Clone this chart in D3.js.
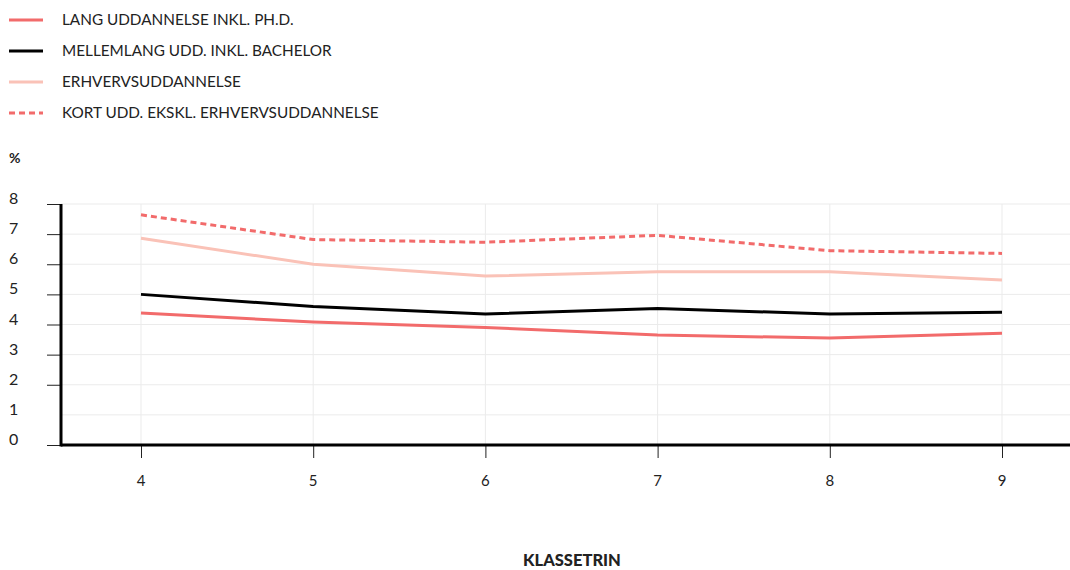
<!DOCTYPE html>
<html><head><meta charset="utf-8">
<script src="https://cdn.jsdelivr.net/npm/d3@7"></script>
<style>
body{margin:0;background:#fff;}
text{font-family:Lato, "Open Sans", sans-serif;fill:#222;}
</style></head>
<body><svg id="c" width="1070" height="570"></svg>
<script>
const categories = [4,5,6,7,8,9];
const seriesNames = ["LANG UDDANNELSE INKL. PH.D.","MELLEMLANG UDD. INKL. BACHELOR","ERHVERVSUDDANNELSE","KORT UDD. EKSKL. ERHVERVSUDDANNELSE"];
const lang = [4.38, 4.08, 3.90, 3.65, 3.55, 3.71];
const mellem = [5.00, 4.60, 4.35, 4.53, 4.35, 4.41];
const erhverv = [6.86, 6.00, 5.61, 5.75, 5.75, 5.48];
const kort = [7.64, 6.82, 6.73, 6.96, 6.45, 6.36];
const yTicks = [0,1,2,3,4,5,6,7,8];
const yLabel = "%";
const xTitle = "KLASSETRIN";

const colors = ["#f26b6b","#000000","#fac2b7","#f26b6b"];
const dashes = [null,null,null,"6,4"];
const data = [lang, mellem, erhverv, kort];

const svg = d3.select("#c");
const pL = 61, pR = 1070, pT = 204, pB = 445;
const x = d3.scalePoint().domain(categories).range([141, 1002]);
const y = d3.scaleLinear().domain([0,8]).range([pB, pT]);

// gridlines
svg.append("g").selectAll("line").data(yTicks).join("line")
  .attr("x1", pL).attr("x2", pR)
  .attr("y1", d=>y(d)).attr("y2", d=>y(d))
  .attr("stroke","#ebebeb").attr("stroke-width",1);
svg.append("g").selectAll("line").data(categories).join("line")
  .attr("x1", d=>x(d)).attr("x2", d=>x(d))
  .attr("y1", pT).attr("y2", pB)
  .attr("stroke","#ebebeb").attr("stroke-width",1);

// y axis
const yAxis = svg.append("g").attr("transform",`translate(${pL},0)`)
  .call(d3.axisLeft(y).tickValues(yTicks.filter(d=>d!==1)).tickSize(14).tickFormat(""));
yAxis.select(".domain").remove();
yAxis.selectAll(".tick line").attr("stroke","#222").attr("stroke-width",1);
svg.append("g").selectAll("text").data(yTicks).join("text")
  .attr("x",9).attr("y",d=>y(d)-4).attr("dominant-baseline","middle")
  .attr("font-size",16).text(d=>d);
svg.append("text").attr("x",9).attr("y",159).attr("dominant-baseline","middle")
  .attr("font-size",14).attr("font-weight","bold").text(yLabel);

// x axis
const xAxis = svg.append("g").attr("transform",`translate(0,${pB})`)
  .call(d3.axisBottom(x).tickSize(13).tickFormat(""));
xAxis.select(".domain").remove();
xAxis.selectAll(".tick line").attr("stroke","#222").attr("stroke-width",1);
svg.append("g").selectAll("text").data(categories).join("text")
  .attr("x",d=>x(d)).attr("y",482).attr("text-anchor","middle").attr("dominant-baseline","middle")
  .attr("font-size",15).text(d=>d);

svg.append("line").attr("x1",pL).attr("x2",pR).attr("y1",pB).attr("y2",pB)
  .attr("stroke","#000").attr("stroke-width",3);
svg.append("line").attr("x1",pL).attr("x2",pL).attr("y1",pT).attr("y2",pB+1.5)
  .attr("stroke","#000").attr("stroke-width",3);

svg.append("text").attr("x",572).attr("y",562).attr("text-anchor","middle").attr("dominant-baseline","middle")
  .attr("font-size",16.5).attr("font-weight","900").text(xTitle);

// lines
const line = d3.line().x((d,i)=>x(categories[i])).y(d=>y(d));
const order = [2,3,1,0];
order.forEach(k=>{
  svg.append("path").datum(data[k]).attr("d",line).attr("fill","none")
    .attr("stroke",colors[k]).attr("stroke-width",3)
    .attr("stroke-linejoin","round")
    .attr("stroke-dasharray",dashes[k]);
});

// legend
const lg = svg.append("g").selectAll("g").data(seriesNames).join("g")
  .attr("transform",(d,i)=>`translate(0,${20+i*31})`);
lg.append("line").attr("x1",9).attr("x2",43).attr("y1",0).attr("y2",0)
  .attr("stroke",(d,i)=>colors[i]).attr("stroke-width",3)
  .attr("stroke-dasharray",(d,i)=>dashes[i]);
lg.append("text").attr("x",62).attr("y",1).attr("dominant-baseline","middle")
  .attr("font-size",15.3).text(d=>d);
</script></body></html>
